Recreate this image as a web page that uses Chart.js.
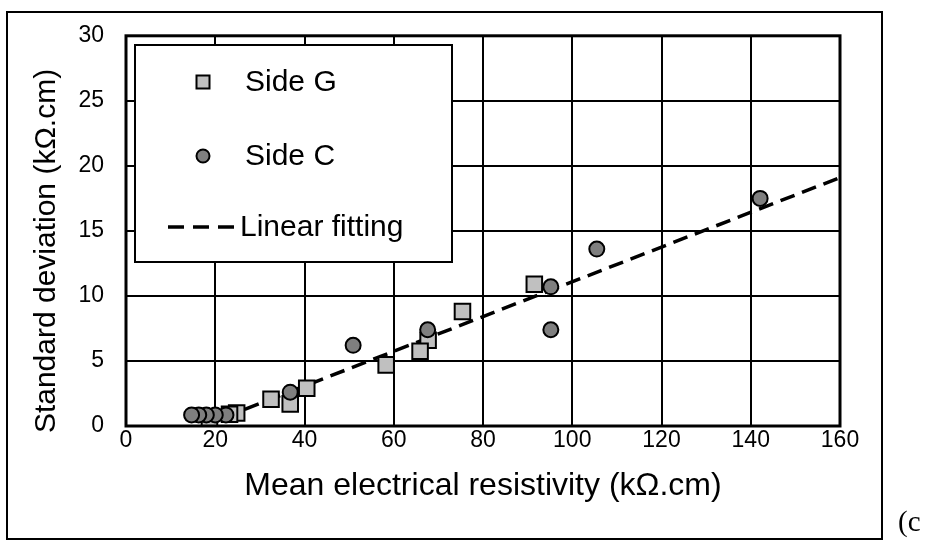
<!DOCTYPE html>
<html>
<head>
<meta charset="utf-8">
<script src="https://cdn.jsdelivr.net/npm/chart.js@4/dist/chart.umd.min.js"></script>
<style>
  html, body { margin: 0; padding: 0; background: #fff; }
  #wrap { width: 927px; height: 547px; }
</style>
</head>
<body>
<div id="wrap"><canvas id="chart" width="927" height="547"></canvas></div>
<script>
// values
const sideGX = [91.5, 75.4, 67.7, 65.9, 58.3, 40.5, 36.8, 32.5, 24.8, 23.2, 18.7];
const sideGY = [10.9, 8.8, 6.6, 5.75, 4.7, 2.9, 1.7, 2.05, 1.0, 0.9, 0.25];
const sideCX = [142.1, 105.5, 95.2, 95.2, 67.6, 50.9, 36.8, 22.4, 20.0, 18.0, 16.3, 14.7];
const sideCY = [17.5, 13.6, 10.7, 7.4, 7.4, 6.2, 2.6, 0.85, 0.85, 0.85, 0.85, 0.85];
const fitX = [17, 160];
const fitY = [0.0, 19.1];
const xTicks = [0, 20, 40, 60, 80, 100, 120, 140, 160];
const yTicks = [0, 5, 10, 15, 20, 25, 30];
const xTitle = 'Mean electrical resistivity (kΩ.cm)';
const yTitle = 'Standard deviation (kΩ.cm)';

const FONT = "'Liberation Sans', Arial, sans-serif";

function toPoints(xs, ys) {
  return xs.map((x, i) => ({ x: x, y: ys[i] }));
}

// outer frame, legend box, axis titles and the "(c" label
const decorations = {
  id: 'decorations',
  afterDatasetsDraw(chart) {
    const ctx = chart.ctx;
    const a = chart.chartArea;
    ctx.save();

    // plot border
    ctx.strokeStyle = '#000';
    ctx.lineWidth = 3;
    ctx.strokeRect(a.left, a.top, a.right - a.left, a.bottom - a.top);

    // legend
    ctx.fillStyle = '#fff';
    ctx.fillRect(135, 45, 317, 217);
    ctx.lineWidth = 2;
    ctx.strokeRect(135, 45, 317, 217);

    const g = chart.data.datasets[1];
    const c = chart.data.datasets[0];
    ctx.fillStyle = g.backgroundColor;
    ctx.fillRect(196.5, 75.5, 13, 13);
    ctx.strokeRect(196.5, 75.5, 13, 13);

    ctx.beginPath();
    ctx.arc(203, 156, 6.5, 0, Math.PI * 2);
    ctx.fillStyle = c.backgroundColor;
    ctx.fill();
    ctx.stroke();

    ctx.beginPath();
    ctx.setLineDash([16, 9]);
    ctx.lineWidth = 3.5;
    ctx.moveTo(168, 227);
    ctx.lineTo(240, 227);
    ctx.stroke();
    ctx.setLineDash([]);

    ctx.fillStyle = '#000';
    ctx.font = '30px ' + FONT;
    ctx.textBaseline = 'middle';
    ctx.textAlign = 'left';
    ctx.fillText(g.label, 245, 83);
    ctx.fillText(c.label, 245, 157);
    ctx.fillText(chart.data.datasets[2].label, 240, 228);

    // axis titles
    ctx.textAlign = 'center';
    ctx.font = '32px ' + FONT;
    ctx.fillText(xTitle, 483, 486);
    ctx.save();
    ctx.translate(47, 251);
    ctx.rotate(-Math.PI / 2);
    ctx.font = '30px ' + FONT;
    ctx.fillText(yTitle, 0, 0);
    ctx.restore();

    // outer frame
    ctx.lineWidth = 2;
    ctx.strokeRect(7, 12, 875, 527);

    ctx.textAlign = 'left';
    ctx.font = "29px 'Liberation Serif', 'Times New Roman', serif";
    ctx.textBaseline = 'alphabetic';
    ctx.fillText('(c', 898, 531);
    ctx.restore();
  }
};

const ctx = document.getElementById('chart').getContext('2d');
new Chart(ctx, {
  type: 'scatter',
  data: {
    datasets: [
      {
        label: 'Side C',
        data: toPoints(sideCX, sideCY),
        pointStyle: 'circle',
        pointRadius: 7.5,
        pointHoverRadius: 7.5,
        backgroundColor: '#7f7f7f',
        borderColor: '#000',
        borderWidth: 2,
        order: 1
      },
      {
        label: 'Side G',
        data: toPoints(sideGX, sideGY),
        pointStyle: 'rect',
        pointRadius: 11,
        pointHoverRadius: 11,
        backgroundColor: '#c0c0c0',
        borderColor: '#000',
        borderWidth: 2,
        order: 2
      },
      {
        label: 'Linear fitting',
        type: 'line',
        data: toPoints(fitX, fitY),
        showLine: true,
        borderColor: '#000',
        borderWidth: 3.5,
        borderDash: [15, 8],
        pointRadius: 0,
        fill: false,
        order: 3
      }
    ]
  },
  options: {
    responsive: false,
    animation: false,
    events: [],
    layout: { padding: { left: 0, top: 34, right: 87, bottom: 0 } },
    plugins: {
      legend: { display: false },
      tooltip: { enabled: false }
    },
    scales: {
      x: {
        type: 'linear',
        min: 0,
        max: 160,
        afterBuildTicks: (scale) => { scale.ticks = xTicks.map(v => ({ value: v })); },
        afterFit: (scale) => { scale.height = 121; },
        grid: { color: '#000', lineWidth: 2, drawTicks: false },
        border: { display: false },
        ticks: { color: '#000', padding: 1, maxRotation: 0, font: { family: FONT, size: 23 } },
        title: { display: false }
      },
      y: {
        type: 'linear',
        min: 0,
        max: 30,
        afterBuildTicks: (scale) => { scale.ticks = yTicks.map(v => ({ value: v })); },
        afterFit: (scale) => { scale.width = 126; },
        grid: { color: '#000', lineWidth: 2, drawTicks: false },
        border: { display: false },
        ticks: { color: '#000', padding: 22, font: { family: FONT, size: 23 } },
        title: { display: false }
      }
    }
  },
  plugins: [decorations]
});
</script>
</body>
</html>
